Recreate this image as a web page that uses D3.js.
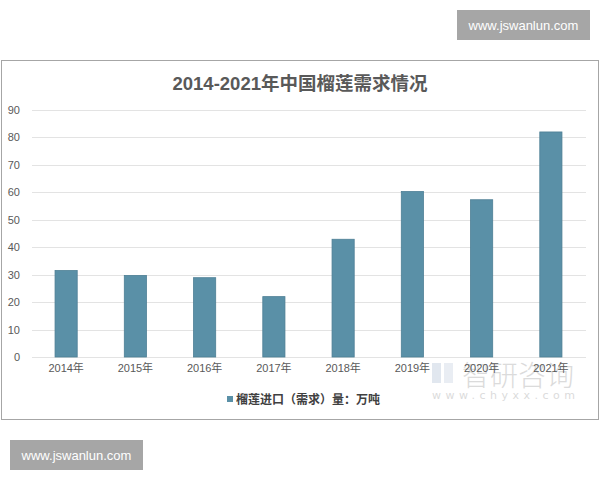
<!DOCTYPE html>
<html>
<head>
<meta charset="utf-8">
<script src="https://cdn.jsdelivr.net/npm/d3@7"></script>
<style>
  html, body { margin: 0; padding: 0; background: #fff; }
  svg { display: block; }
</style>
</head>
<body>
<svg id="chart" width="600" height="480"></svg>
<script>
const years = ["2014年","2015年","2016年","2017年","2018年","2019年","2020年","2021年"];
const demand = [31.5, 29.7, 28.9, 22.0, 42.9, 60.3, 57.3, 82.0];
const yTicks = [0, 10, 20, 30, 40, 50, 60, 70, 80, 90];
const titleText = "2014-2021年中国榴莲需求情况";
const legendText = "榴莲进口（需求）量：万吨";
const siteText = "www.jswanlun.com";

const svg = d3.select("#chart");
const cjk = "'Liberation Sans', 'Noto Sans CJK SC', sans-serif";

// outer frame
svg.append("rect").attr("x", 1.5).attr("y", 60.5).attr("width", 597).attr("height", 359)
  .attr("fill", "#fff").attr("stroke", "#a6a6a6").attr("stroke-width", 1);

const x = d3.scaleBand().domain(years).range([31.5, 585.5]).paddingInner(0.68).paddingOuter(0.34);
const y = d3.scaleLinear().domain([0, 90]).range([357, 110]);

// gridlines
svg.append("g").selectAll("line").data(yTicks).join("line")
  .attr("x1", 32).attr("x2", 586)
  .attr("y1", d => Math.round(y(d)) + 0.5).attr("y2", d => Math.round(y(d)) + 0.5)
  .attr("stroke", "#e3e3e3").attr("stroke-width", 1);

// y axis labels
const yAxis = d3.axisLeft(y).tickValues(yTicks).tickSize(0).tickPadding(0);
const yg = svg.append("g").attr("transform", "translate(20,0)").call(yAxis);
yg.select(".domain").remove();
yg.selectAll("text").attr("fill", "#595959").attr("font-size", 11)
  .attr("font-family", cjk).attr("text-anchor", "end");

// bars
svg.append("g").selectAll("rect").data(demand).join("rect")
  .attr("x", (d, i) => x(years[i]))
  .attr("width", x.bandwidth())
  .attr("y", d => y(d))
  .attr("height", d => y(0) - y(d))
  .attr("fill", "#5a90a7")
  .attr("stroke", "#4d7f95").attr("stroke-width", 0.8);

// faint watermark (智研咨询), drawn beneath the axis labels
const wm = svg.append("g").attr("opacity", 0.3);
wm.append("rect").attr("x", 432).attr("y", 363).attr("width", 9).attr("height", 20).attr("fill", "#9fb3cc");
wm.append("rect").attr("x", 444).attr("y", 363).attr("width", 9).attr("height", 20).attr("fill", "#b9c7d8");
wm.append("text").attr("x", 462).attr("y", 386).attr("font-size", 28).attr("fill", "#8a8a8a")
  .attr("font-family", "'Noto Sans CJK SC', sans-serif").attr("font-weight", 300).text("智研咨询");
wm.append("text").attr("x", 432).attr("y", 399).attr("font-size", 11).attr("fill", "#8a8a8a")
  .attr("letter-spacing", 4.5).attr("font-family", "'DejaVu Sans', sans-serif").text("www.chyxx.com");

// x axis labels
const xAxis = d3.axisBottom(x).tickSize(0).tickPadding(0);
const xg = svg.append("g").attr("transform", "translate(0,369)").call(xAxis);
xg.select(".domain").remove();
xg.selectAll("text").attr("fill", "#595959").attr("font-size", 11)
  .attr("font-family", cjk).attr("dy", "0.3em");

// title
svg.append("text").attr("x", 300).attr("y", 90).attr("text-anchor", "middle")
  .attr("font-size", 18.5).attr("font-weight", "bold").attr("fill", "#595959")
  .attr("font-family", cjk).text(titleText);

// legend
svg.append("rect").attr("x", 227).attr("y", 396).attr("width", 6).attr("height", 6).attr("fill", "#5a90a7");
svg.append("text").attr("x", 236).attr("y", 403.5).attr("font-size", 12).attr("font-weight", "bold")
  .attr("fill", "#404040").attr("font-family", cjk).text(legendText);

// site labels
function site(bx, by) {
  svg.append("rect").attr("x", bx).attr("y", by).attr("width", 133).attr("height", 30).attr("fill", "#a6a6a6");
  svg.append("text").attr("x", bx + 66.5).attr("y", by + 19.5).attr("text-anchor", "middle")
    .attr("font-size", 13).attr("fill", "#ffffff").attr("font-family", "'Liberation Sans', Arial, sans-serif")
    .text(siteText);
}
site(457, 10);
site(10, 440);
</script>
</body>
</html>
